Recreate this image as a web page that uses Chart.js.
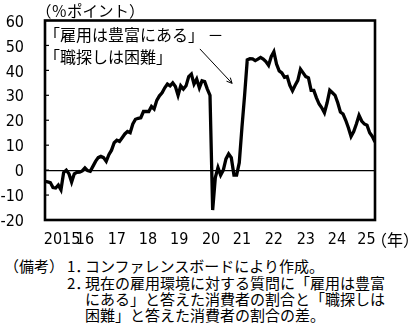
<!DOCTYPE html>
<html lang="ja">
<head>
<meta charset="UTF-8">
<title>雇用環境に対する評価</title>
<script src="https://cdn.jsdelivr.net/npm/chart.js@4"></script>
<style>
  body { margin: 0; background: #fff; }
  #wrap { position: relative; width: 411px; height: 323px; overflow: hidden;
          font-family: "Noto Sans CJK JP", sans-serif; color: #000; }
  #chart { position: absolute; left: 0; top: 0; }
  .txt { position: absolute; white-space: nowrap; line-height: 1; }
  .note { font-size: 15px; }
</style>
</head>
<body>
<div id="wrap">
  <canvas id="chart" width="411" height="250"></canvas>

  <div class="txt" style="left:36px; top:3px; font-size:15.5px;">（％ポイント）</div>
  <div class="txt" style="left:44px; top:26px; font-size:16px;">「雇用は豊富にある」 －</div>
  <div class="txt" style="left:44px; top:48px; font-size:16px;">「職探しは困難」</div>
  <div class="txt" style="left:371px; top:231px; font-size:16px;">（年）</div>

  <!-- notes -->
  <div class="txt note" style="left:4px; top:258px;">（備考）</div>
  <div class="txt note" style="left:67px; top:258px;">1．</div>
  <div class="txt note" style="left:85px; top:258px;">コンファレンスボードにより作成。</div>
  <div class="txt note" style="left:67px; top:275px;">2．</div>
  <div class="txt note" style="left:85px; top:275px;">現在の雇用環境に対する質問に「雇用は豊富</div>
  <div class="txt note" style="left:85px; top:291px;">にある」と答えた消費者の割合と「職探しは</div>
  <div class="txt note" style="left:85px; top:307px;">困難」と答えた消費者の割合の差。</div>
</div>

<script>
  // monthly values, 2015/01 - 2025/05 (%pt)
  const values = [
    -4.5, -4.7, -5.0, -7.0, -7.2, -6.0, -7.9, -1.0, 0.0, -1.5, -4.8, -1.5,   // 2015
    -0.9, -0.8, -0.3, 0.9, -0.2, -0.5, 1.5, 3.5, 5.0, 5.5, 5.0, 3.5,         // 2016
    6.2, 8.0, 11.0, 12.0, 11.5, 13.0, 14.5, 15.5, 15.0, 18.5, 20.4, 20.8,    // 2017
    21.0, 23.5, 23.5, 23.5, 25.5, 24.5, 28.0, 29.8, 31.0, 33.0, 34.5, 33.8,  // 2018
    35.0, 33.5, 30.0, 33.8, 32.5, 33.8, 37.5, 38.5, 34.5, 36.5, 33.0, 35.8,  // 2019
    35.5, 32.5, 30.0, -16.0, -3.0, 1.0, -2.0, 0.0, 4.5, 6.5, 5.0, -2.0,      // 2020
    -2.0, 3.0, 17.0, 30.0, 44.2, 44.7, 44.6, 43.9, 44.5, 45.2, 44.5, 43.5,   // 2021
    42.0, 45.5, 47.5, 42.5, 39.8, 39.0, 37.2, 37.5, 34.0, 31.8, 34.0, 36.0,  // 2022
    40.5, 39.0, 37.5, 37.0, 32.0, 32.0, 29.0, 26.5, 25.0, 23.0, 27.0, 32.0,  // 2023
    31.0, 30.0, 27.0, 23.3, 22.5, 20.0, 17.0, 13.5, 15.5, 18.5, 22.0, 19.7,  // 2024
    18.5, 18.0, 15.0, 13.5, 11.3                                             // 2025
  ];

  // year labels and the month index they sit under
  const tickLabels = ['2015', '16', '17', '18', '19', '20', '21', '22', '23', '24', '25'];
  const tickMonths = [6.4, 15, 27, 38.7, 50.4, 62.4, 74, 86, 98, 109.7, 120.8];

  // arrow from the label to the line, in (month index, value)
  const arrowFrom = [58.2, 48.6];
  const arrowTo = [70.3, 34.8];

  const points = values.map((v, i) => ({ x: i, y: v }));

  const framePlugin = {
    id: 'frame',
    afterDraw(chart) {
      const { ctx, chartArea: a, scales } = chart;
      ctx.save();
      ctx.strokeStyle = '#000';

      // small inner ticks on the value axis
      ctx.lineWidth = 1.2;
      scales.y.ticks.forEach(t => {
        const y = scales.y.getPixelForValue(t.value);
        ctx.beginPath();
        ctx.moveTo(a.left, y);
        ctx.lineTo(a.left + 4, y);
        ctx.stroke();
      });

      // arrow
      const x1 = scales.x.getPixelForValue(arrowFrom[0]), y1 = scales.y.getPixelForValue(arrowFrom[1]);
      const x2 = scales.x.getPixelForValue(arrowTo[0]), y2 = scales.y.getPixelForValue(arrowTo[1]);
      const ang = Math.atan2(y2 - y1, x2 - x1);
      ctx.lineWidth = 1;
      ctx.beginPath();
      ctx.moveTo(x1, y1);
      ctx.lineTo(x2, y2);
      ctx.moveTo(x2 - 6 * Math.cos(ang - 0.45), y2 - 6 * Math.sin(ang - 0.45));
      ctx.lineTo(x2, y2);
      ctx.lineTo(x2 - 6 * Math.cos(ang + 0.45), y2 - 6 * Math.sin(ang + 0.45));
      ctx.stroke();

      // plot frame
      ctx.lineWidth = 2.6;
      ctx.strokeRect(a.left, a.top, a.right - a.left, a.bottom - a.top);
      ctx.restore();
    }
  };

  const tickFont = { family: '"Liberation Sans Narrow", "DejaVu Sans Condensed", "Liberation Sans", sans-serif', size: 16 };

  new Chart(document.getElementById('chart'), {
    type: 'line',
    data: {
      datasets: [{
        data: points,
        borderColor: '#000',
        borderWidth: 3.3,
        pointRadius: 0,
        tension: 0,
        fill: false
      }]
    },
    options: {
      responsive: false,
      animation: false,
      devicePixelRatio: 1,
      layout: { padding: { top: 20.5, right: 36, left: 0, bottom: 0 } },
      plugins: { legend: { display: false }, tooltip: { enabled: false } },
      scales: {
        x: {
          type: 'linear',
          min: 0,
          max: values.length - 1,
          afterBuildTicks: scale => { scale.ticks = tickMonths.map(m => ({ value: m })); },
          afterFit: scale => {
            scale.height = 30;
            scale.paddingLeft = 0;
            scale.paddingRight = 0;
          },
          grid: { display: false, drawTicks: false },
          border: { display: false },
          ticks: {
            autoSkip: false,
            maxRotation: 0,
            padding: 10,
            color: '#000',
            font: tickFont,
            callback: (v, i) => tickLabels[i]
          }
        },
        y: {
          min: -20,
          max: 60,
          afterFit: scale => {
            scale.width = 45;
            scale.paddingTop = 0;
            scale.paddingBottom = 0;
          },
          grid: {
            drawTicks: false,
            color: c => c.tick && c.tick.value === 0 ? '#000' : 'rgba(0,0,0,0)',
            lineWidth: 1.2
          },
          border: { display: false },
          ticks: {
            stepSize: 10,
            padding: 21,
            labelOffset: 2,
            color: '#000',
            font: tickFont
          }
        }
      }
    },
    plugins: [framePlugin]
  });
</script>
</body>
</html>
